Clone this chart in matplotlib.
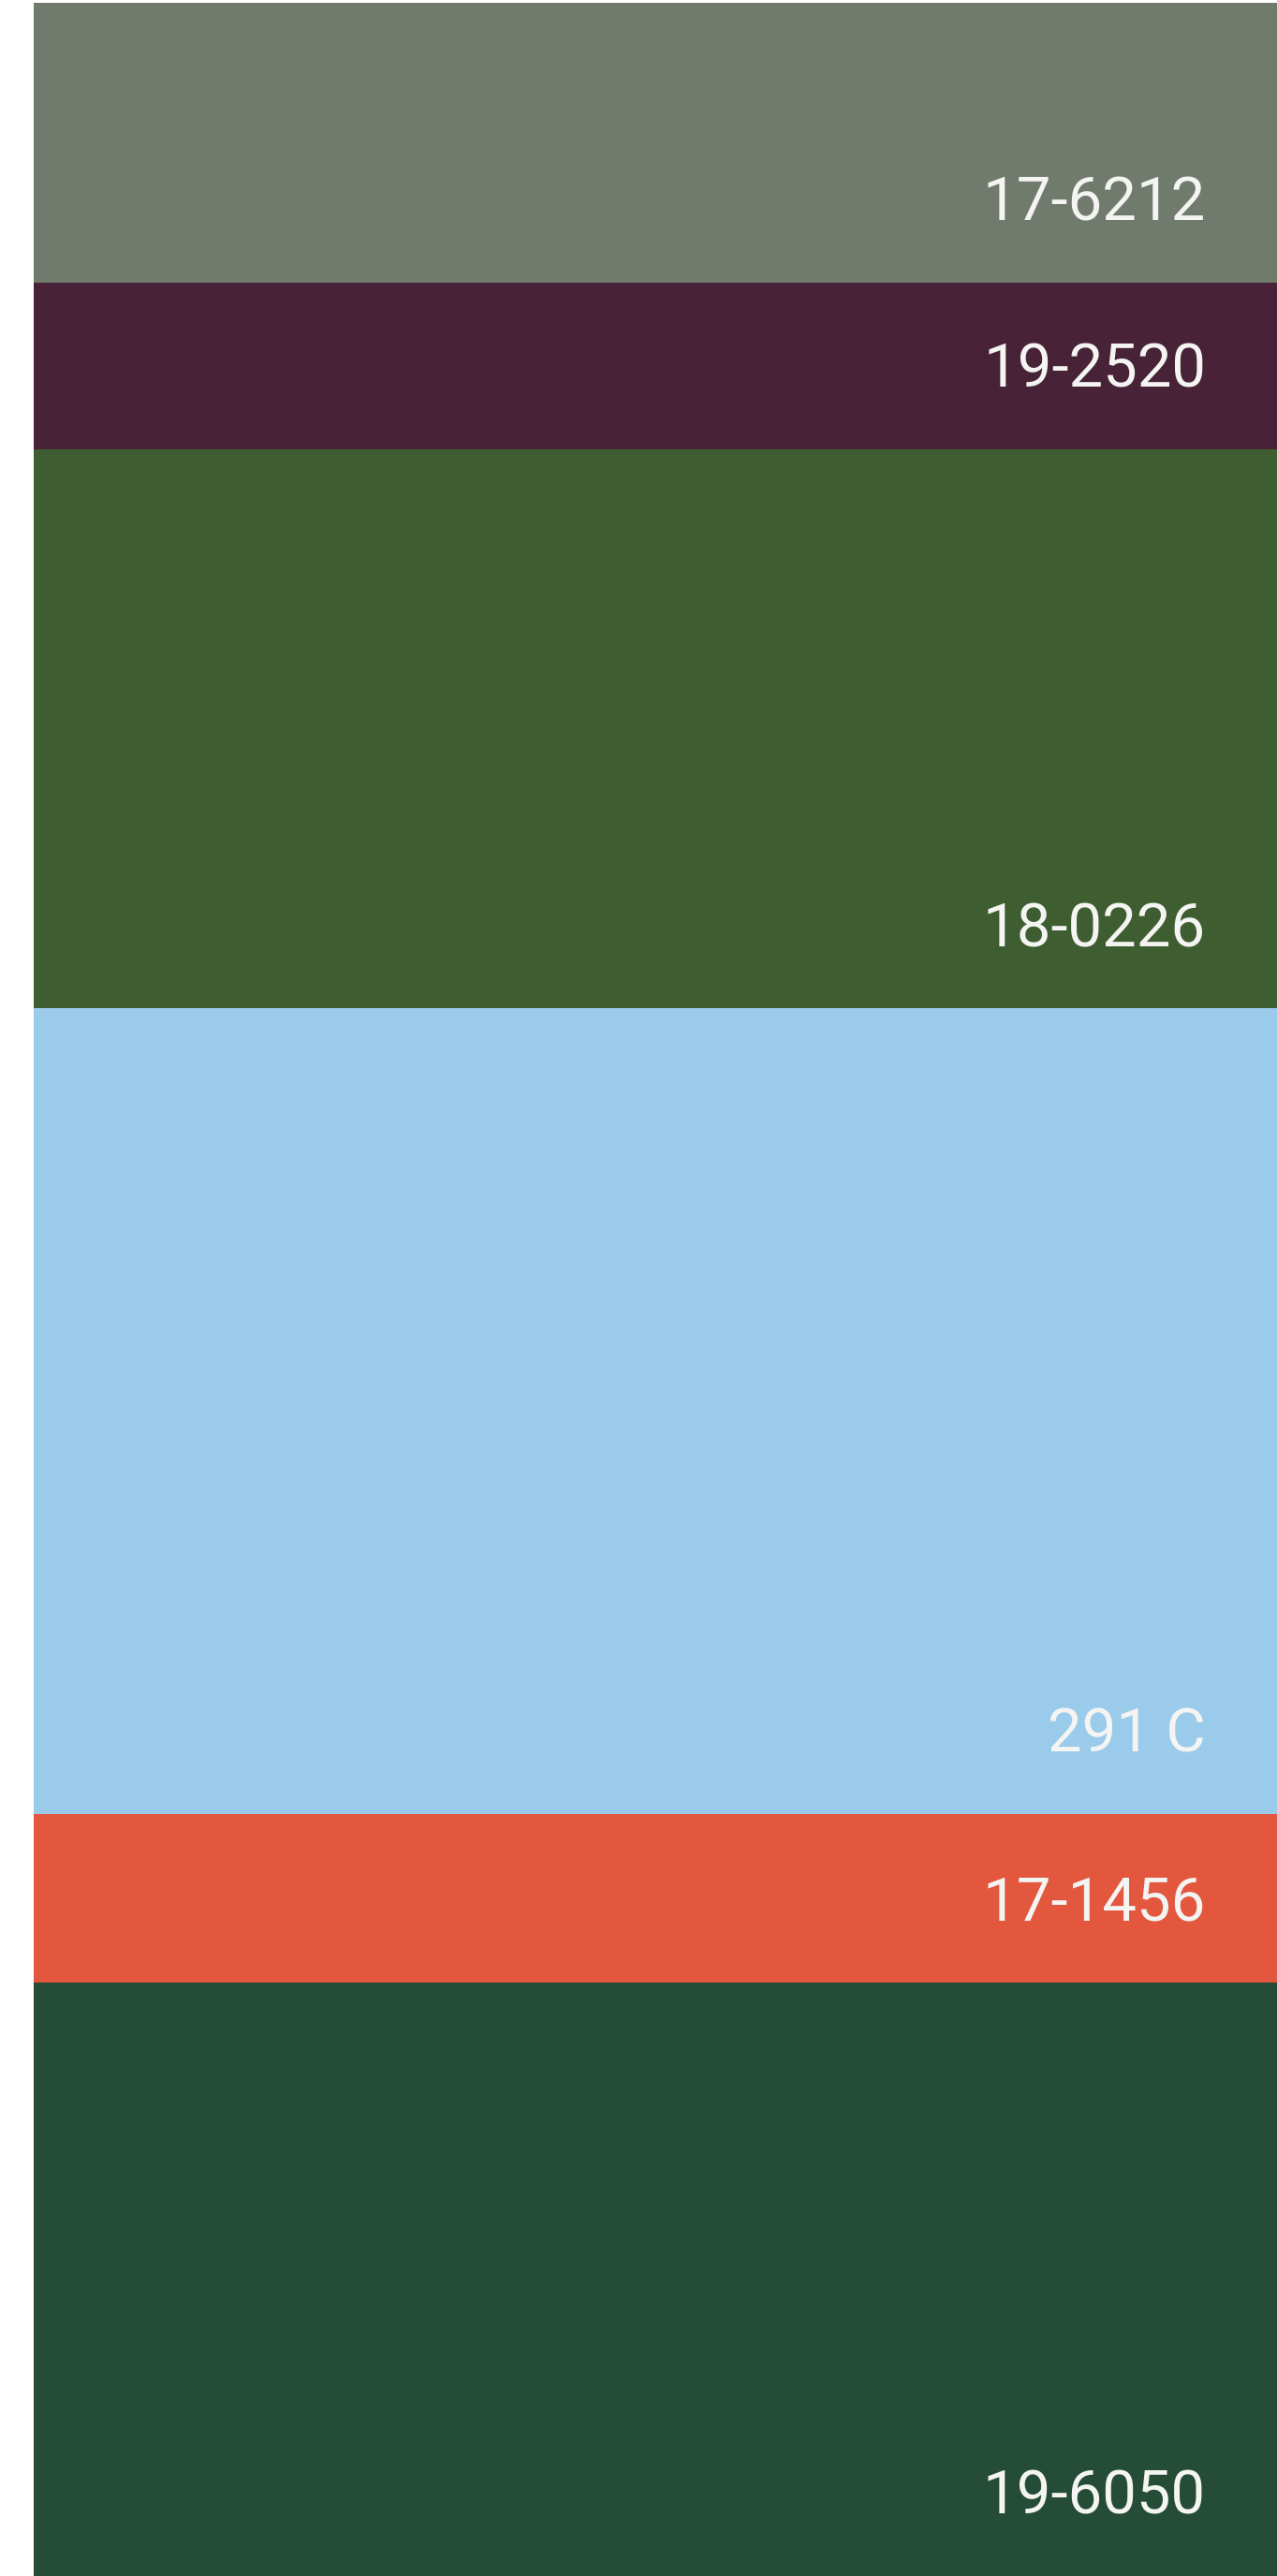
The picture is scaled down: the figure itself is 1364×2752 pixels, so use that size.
import matplotlib
matplotlib.use("Agg")
import matplotlib.pyplot as plt
import matplotlib.transforms as mtransforms
import numpy as np

# Swatch data (top to bottom)
codes = ["17-6212", "19-2520", "18-0226", "291 C", "17-1456", "19-6050"]
heights = [299, 178, 597, 861, 180, 634]
colors = ["#707B6E", "#482338", "#3E5D30", "#9BCBEB", "#E2573D", "#254C36"]

W, H = 1364, 2752
dpi = 100
fig = plt.figure(figsize=(W / dpi, H / dpi), dpi=dpi, facecolor="white")
left = 36 / W
top_gap = 3 / H
ax = fig.add_axes([left, 0, 1 - left, 1 - top_gap])

bottoms = np.concatenate([[0], np.cumsum(heights)[:-1]])
total = float(np.sum(heights))
ax.bar(np.zeros(len(heights)), heights, bottom=bottoms, width=1.0,
       color=colors, edgecolor="none", align="center")
ax.set_xlim(-0.5, 0.5)
ax.set_ylim(total, 0)
ax.axis("off")

trans = mtransforms.blended_transform_factory(ax.transAxes, ax.transData)
text_x = (1288 - 36) / (W - 36)
for code, b, h in zip(codes, bottoms, heights):
    ax.text(text_x, b + h - 66, code, transform=trans, ha="right", va="baseline",
            fontsize=47, family=["Roboto", "DejaVu Sans"], fontweight="normal",
            color="#F4F4F2")

fig.savefig("out.png", dpi=dpi, facecolor="white")
